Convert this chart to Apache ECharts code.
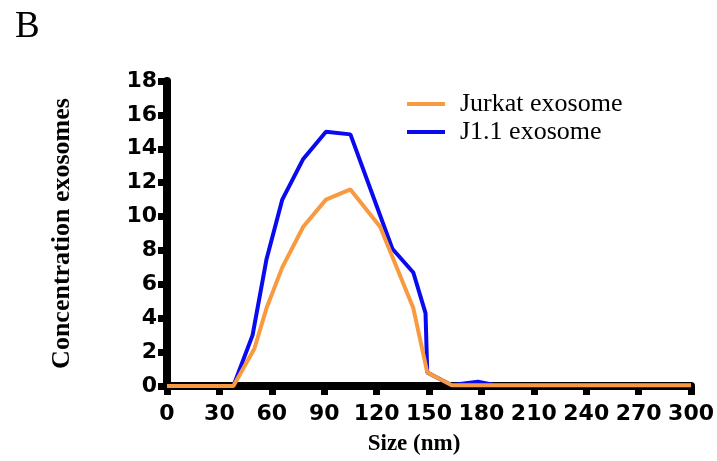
<!DOCTYPE html>
<html>
<head>
	<meta charset="utf-8">
	<title>Exosome size distribution</title>
	<script type="text/javascript" src="https://cdn.jsdelivr.net/npm/echarts@6/dist/echarts.min.js"></script>
</head>
<body style="margin:0; background:#fff">
	<div style="height: 461px; width: 717px" id="chart"></div>

	<script type="text/javascript">
		// data: [size nm, concentration]
		var jurkat = [[0, 0], [38, 0], [50, 2.2], [57, 4.6], [66, 7.0], [78, 9.4], [91, 11.0], [105, 11.6],
			[122, 9.4], [141, 4.6], [149, 0.8], [163, 0.05], [300, 0.05]];
		var j11 = [[0, 0], [38, 0], [49, 3.0], [57, 7.5], [66, 11.0], [78, 13.4], [91, 15.0], [105, 14.85],
			[129, 8.1], [141, 6.7], [148, 4.3], [149, 0.8], [163, 0.05], [170, 0.15], [178, 0.25], [188, 0.05], [300, 0.05]];
		var xTicks = [0, 300, 30];
		var yTicks = [0, 18, 2];

		var chart = echarts.init(document.getElementById('chart'));

		var option = {
			backgroundColor: '#fff',
			animation: false,
			title: {
				text: 'B',
				left: 10,
				top: 4,
				textStyle: { fontFamily: 'Liberation Serif', fontWeight: 'normal', fontSize: 37, color: '#000' }
			},
			legend: {
				data: ['Jurkat exosome', 'J1.1 exosome'],
				orient: 'vertical',
				left: 402,
				top: 86,
				itemWidth: 38,
				itemHeight: 4,
				itemGap: 2,
				icon: 'rect',
				textStyle: { fontFamily: 'Liberation Serif', fontSize: 26, color: '#000', padding: [0, 0, 0, 10] }
			},
			grid: { left: 167, right: 23, top: 81, bottom: 75 },
			xAxis: {
				type: 'value',
				min: xTicks[0], max: xTicks[1], interval: xTicks[2],
				name: 'Size (nm)',
				nameLocation: 'middle',
				nameGap: 47,
				nameTextStyle: { fontFamily: 'Liberation Serif', fontWeight: 'bold', fontSize: 23, color: '#000', padding: [0, 30, 0, 0] },
				axisLine: { lineStyle: { color: '#000', width: 8 } },
				axisTick: { length: 9, lineStyle: { color: '#000', width: 7 } },
				axisLabel: { margin: 17, fontFamily: 'DejaVu Sans', fontWeight: 'bold', fontSize: 22, color: '#000' },
				splitLine: { show: false }
			},
			yAxis: {
				type: 'value',
				min: yTicks[0], max: yTicks[1], interval: yTicks[2],
				name: 'Concentration exosomes',
				nameLocation: 'middle',
				nameGap: 92,
				nameTextStyle: { fontFamily: 'Liberation Serif', fontWeight: 'bold', fontSize: 26, color: '#000', padding: [0, 0, 0, 0] },
				axisLine: { show: true, lineStyle: { color: '#000', width: 8 } },
				axisTick: { show: true, length: 9, lineStyle: { color: '#000', width: 7 } },
				axisLabel: { margin: 10, fontFamily: 'DejaVu Sans', fontWeight: 'bold', fontSize: 22, color: '#000' },
				splitLine: { show: false }
			},
			series: [
				{
					name: 'J1.1 exosome',
					type: 'line',
					data: j11,
					showSymbol: false,
					color: '#0a0af0',
					lineStyle: { width: 4 }
				},
				{
					name: 'Jurkat exosome',
					type: 'line',
					data: jurkat,
					showSymbol: false,
					color: '#f89a40',
					lineStyle: { width: 4 }
				}
			]
		};

		chart.setOption(option);
	</script>
</body>
</html>
